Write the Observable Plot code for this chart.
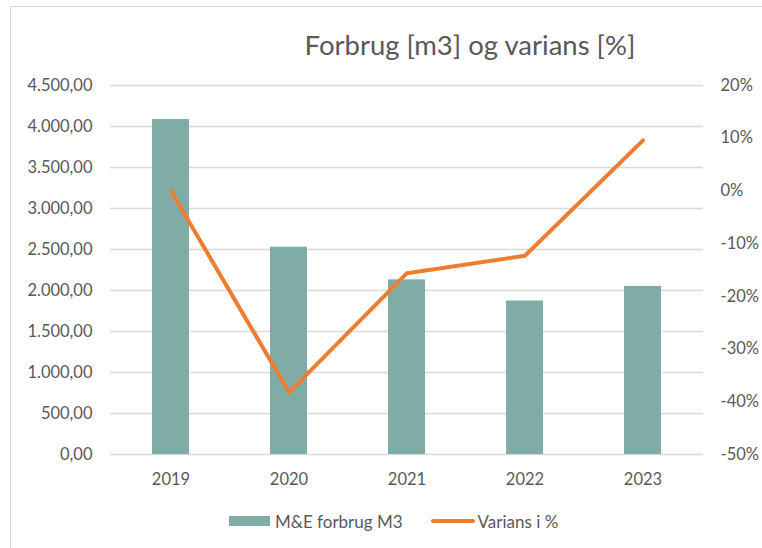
<!DOCTYPE html>
<html>
<head>
<meta charset="utf-8">
<script src="https://cdn.jsdelivr.net/npm/d3@7"></script>
<script src="https://cdn.jsdelivr.net/npm/@observablehq/plot@0.6"></script>
<style>
  html, body { margin: 0; padding: 0; background: #ffffff; overflow: hidden; }
  #wrap { position: relative; width: 762px; height: 548px; font-family: Lato, "Open Sans", sans-serif; color: #595959; }
  #frame { position: absolute; left: 10px; top: 6px; width: 800px; height: 600px; border: 1px solid #d9d9d9; box-sizing: border-box; }
  #title { position: absolute; left: 470px; top: 31px; transform: translateX(-50%); font-size: 27.5px; line-height: 27.5px; white-space: nowrap; color: #595959; }
  #chart { position: absolute; left: 0; top: 70px; }
  #legend { position: absolute; left: 229px; top: 510px; height: 22px; display: flex; align-items: center; font-size: 17px; white-space: nowrap; color: #595959; }
  .sw-bar { width: 41px; height: 10px; margin-right: 5px; }
  .sw-line { width: 44px; height: 4px; border-radius: 2px; margin-right: 3px; }
</style>
</head>
<body>
<div id="wrap">
  <div id="frame"></div>
  <div id="title"></div>
  <div id="chart"></div>
  <div id="legend"></div>
</div>
<script>
// ---- Data ----
const years = ["2019", "2020", "2021", "2022", "2023"];
const forbrug = [4085, 2528, 2130, 1872, 2050];      // M&E forbrug M3
const varians = [0, -38.2, -15.6, -12.3, 9.6];        // Varians i %
const leftTicks = [0, 500, 1000, 1500, 2000, 2500, 3000, 3500, 4000, 4500];
const rightTicks = [-50, -40, -30, -20, -10, 0, 10, 20];
const titleText = "Forbrug [m3] og varians [%]";
const seriesNames = ["M&E forbrug M3", "Varians i %"];
const colors = ["#7fada5", "#ed7d31"];

// ---- Secondary axis mapping ----
const leftMax = 4500, pMin = -50, pMax = 20;
const toLeft = p => (p - pMin) / (pMax - pMin) * leftMax;
const fromLeft = v => Math.round(v / leftMax * (pMax - pMin) + pMin);

const da = d3.formatLocale({decimal: ",", thousands: ".", grouping: [3], currency: ["", " kr"]});
const fmtNum = da.format(",.2f");
const fmtPct = v => fromLeft(v) + "%";

const rows = years.map((year, i) => ({year, forbrug: forbrug[i], varians: varians[i]}));

const plot = Plot.plot({
  width: 762,
  height: 420,
  marginTop: 15,
  marginBottom: 36,
  marginLeft: 110,
  marginRight: 59,
  style: {fontFamily: "Lato, 'Open Sans', sans-serif", fontSize: "16.5px", color: "#595959", background: "transparent", overflow: "visible"},
  x: {type: "band", domain: years, paddingInner: 0.69, paddingOuter: 0.345, label: null},
  y: {domain: [0, leftMax], label: null},
  marks: [
    Plot.gridY(leftTicks, {stroke: "#d9d9d9", strokeOpacity: 1, strokeWidth: 1.3}),
    Plot.axisY(leftTicks, {anchor: "left", tickSize: 0, tickPadding: 18, tickFormat: fmtNum, label: null}),
    Plot.axisY(rightTicks.map(toLeft), {anchor: "right", tickSize: 0, tickPadding: 17, tickFormat: fmtPct, label: null}),
    Plot.barY(rows, {x: "year", y: "forbrug", fill: colors[0]}),
    Plot.lineY(rows, {x: "year", y: d => toLeft(d.varians), stroke: colors[1], strokeWidth: 4, strokeLinejoin: "round", strokeLinecap: "round"}),
    Plot.axisX({tickSize: 0, tickPadding: 19, label: null})
  ]
});
document.getElementById("chart").appendChild(plot);
document.getElementById("title").textContent = titleText;

const legend = document.getElementById("legend");
legend.innerHTML =
  `<div class="sw-bar" style="background:${colors[0]}"></div><span>${seriesNames[0]}</span>` +
  `<div style="width:28px"></div>` +
  `<div class="sw-line" style="background:${colors[1]}"></div><span>${seriesNames[1]}</span>`;
</script>
</body>
</html>
